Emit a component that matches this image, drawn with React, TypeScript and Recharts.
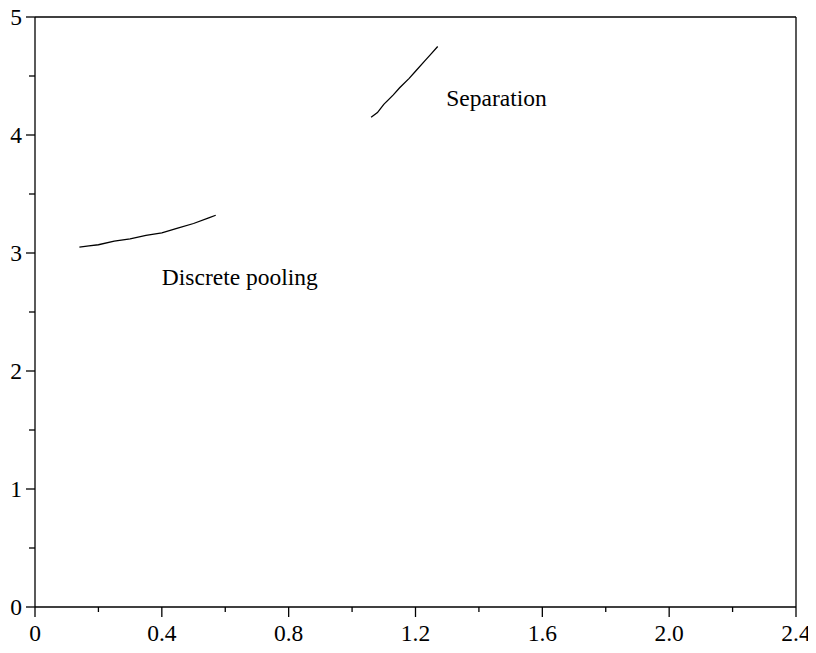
import { LineChart, Line, XAxis, YAxis, ReferenceLine, ReferenceDot } from 'recharts';

const xTicks = [0, 0.2, 0.4, 0.6, 0.8, 1.0, 1.2, 1.4, 1.6, 1.8, 2.0, 2.2, 2.4];
const yTicks = [0, 0.5, 1, 1.5, 2, 2.5, 3, 3.5, 4, 4.5, 5];

const poolingX = [0.14, 0.17, 0.2, 0.25, 0.3, 0.35, 0.4, 0.45, 0.5, 0.55, 0.57];
const poolingY = [3.05, 3.06, 3.07, 3.1, 3.12, 3.15, 3.17, 3.21, 3.25, 3.3, 3.32];

const separationX = [1.06, 1.08, 1.1, 1.13, 1.15, 1.18, 1.2, 1.23, 1.25, 1.27];
const separationY = [4.15, 4.19, 4.26, 4.34, 4.4, 4.48, 4.54, 4.63, 4.69, 4.75];

const labels = [
  { text: 'Separation', x: 1.297, y: 4.246 },
  { text: 'Discrete pooling', x: 0.4, y: 2.73 },
];

const pooling = poolingX.map((x, i) => ({ x, y: poolingY[i] }));
const separation = separationX.map((x, i) => ({ x, y: separationY[i] }));

const FONT = '"Liberation Serif", "Times New Roman", serif';

// tick marks drawn by hand so minor ticks can be shorter and unlabeled
const XTick = (props: any) => {
  const { x, y, payload } = props;
  const v = payload.value;
  const major = Math.round(v * 10) % 4 === 0;
  return (
    <g>
      <line x1={x} x2={x} y1={y} y2={y + (major ? 10 : 5)} stroke="#000" strokeWidth={1.3} />
      {major && (
        <text x={x} y={y + 34} textAnchor="middle" fontFamily={FONT} fontSize={23.5} fill="#000">
          {v === 0 ? '0' : v.toFixed(1)}
        </text>
      )}
    </g>
  );
};

const YTick = (props: any) => {
  const { x, y, payload } = props;
  const v = payload.value;
  const major = Number.isInteger(v);
  return (
    <g>
      <line x1={x - (major ? 9 : 6)} x2={x} y1={y} y2={y} stroke="#000" strokeWidth={1.3} />
      {major && (
        <text x={x - 13} y={y + 8} textAnchor="end" fontFamily={FONT} fontSize={23.5} fill="#000">
          {v}
        </text>
      )}
    </g>
  );
};

const App = () => {
  return (
    <div style={{ margin: -8 }}>
      <LineChart width={816} height={653} margin={{ top: 17, right: 20, left: 0, bottom: 0 }}>
        <XAxis
          type="number"
          dataKey="x"
          domain={[0, 2.4]}
          ticks={xTicks}
          tickSize={0}
          tickMargin={0}
          tick={<XTick />}
          height={46}
          stroke="#000"
          strokeWidth={1.3}
          allowDataOverflow
          interval={0}
        />
        <YAxis
          type="number"
          domain={[0, 5]}
          ticks={yTicks}
          tickSize={0}
          tickMargin={0}
          tick={<YTick />}
          width={35}
          stroke="#000"
          strokeWidth={1.3}
          allowDataOverflow
          interval={0}
        />
        <ReferenceLine y={5} stroke="#000" strokeWidth={1.6} />
        <ReferenceLine x={2.4} stroke="#000" strokeWidth={1.3} />
        <Line data={pooling} dataKey="y" type="linear" stroke="#000" strokeWidth={1.3} dot={false} isAnimationActive={false} />
        <Line data={separation} dataKey="y" type="linear" stroke="#000" strokeWidth={1.3} dot={false} isAnimationActive={false} />
        {labels.map((l) => (
          <ReferenceDot
            key={l.text}
            x={l.x}
            y={l.y}
            r={0}
            shape={(p: any) => (
              <text x={p.cx} y={p.cy} fontFamily={FONT} fontSize={23.5} fill="#000">
                {l.text}
              </text>
            )}
          />
        ))}
      </LineChart>
    </div>
  );
};

export default App;
